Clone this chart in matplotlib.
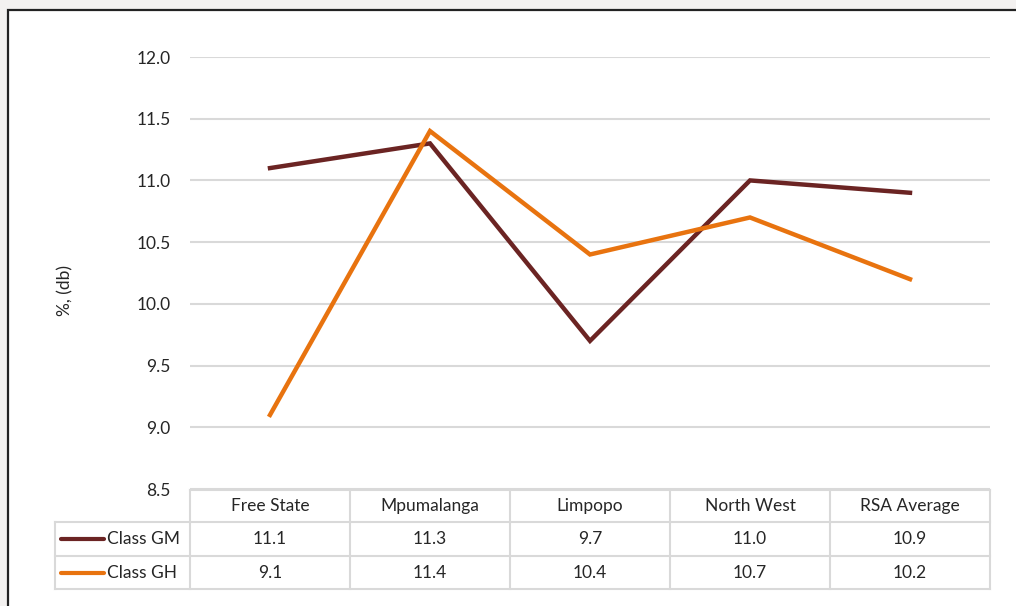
import matplotlib.pyplot as plt
from matplotlib.patches import Rectangle
from matplotlib.lines import Line2D

# Дані
regions = ["Free State", "Mpumalanga", "Limpopo", "North West", "RSA Average"]
class_gm = [11.1, 11.3, 9.7, 11.0, 10.9]
class_gh = [9.1, 11.4, 10.4, 10.7, 10.2]
series_names = ["Class GM", "Class GH"]
colors = ["#6b2423", "#e8730f"]
yticks = [8.5, 9.0, 9.5, 10.0, 10.5, 11.0, 11.5, 12.0]

W, H = 1016, 606
FS = 12.5
plt.rcParams['font.family'] = ['Lato', 'DejaVu Sans']
fig = plt.figure(figsize=(W / 100, H / 100), dpi=100)
fig.patch.set_facecolor("#f3f1f0")

def fx(px):
    return px / W

def fy(py):
    return 1 - py / H

# біла рамка
fig.patches.append(Rectangle((fx(8), fy(620)), fx(1030), fy(10) - fy(620),
                             transform=fig.transFigure, facecolor="white",
                             edgecolor="#222222", lw=1.6, zorder=-1))

ax = fig.add_axes([fx(190), fy(489), fx(990) - fx(190), fy(57) - fy(489)])
ax.set_facecolor("none")
x = list(range(len(regions)))
for vals, c in zip([class_gm, class_gh], colors):
    ax.plot(x, vals, color=c, lw=3.2, solid_joinstyle="miter", zorder=3)

ax.set_xlim(-0.5, len(regions) - 0.5)
ax.set_ylim(yticks[0], yticks[-1])
ax.set_yticks(yticks)
ax.set_yticklabels([f"{v:.1f}" for v in yticks])
ax.yaxis.grid(True, color="#d9d9d9", lw=1.5)
ax.set_axisbelow(True)
ax.tick_params(axis="y", length=0, pad=14, labelsize=FS, labelcolor="#262626")
ax.set_xticks([])
for s in ax.spines.values():
    s.set_visible(False)
fig.text(fx(65), fy(290), "%, (db)", rotation=90, ha="center", va="center",
         fontsize=FS, color="#262626")

# таблиця даних
grid_c = "#d9d9d9"
col_w = (990 - 190) / len(regions)
rows_y = [490, 522, 556, 589]
def hline(x0, x1, y):
    fig.add_artist(Line2D([fx(x0), fx(x1)], [fy(y), fy(y)], color=grid_c, lw=1.5))
def vline(xp, y0, y1):
    fig.add_artist(Line2D([fx(xp), fx(xp)], [fy(y0), fy(y1)], color=grid_c, lw=1.5))

hline(190, 990, rows_y[0])
for y in rows_y[1:]:
    hline(55, 990, y)
vline(55, rows_y[1], rows_y[3])
for i in range(len(regions) + 1):
    vline(190 + i * col_w, rows_y[0], rows_y[3])

for i, r in enumerate(regions):
    cx = 190 + (i + 0.5) * col_w
    fig.text(fx(cx), fy((rows_y[0] + rows_y[1]) / 2), r, ha="center", va="center",
             fontsize=FS, color="#262626")
    for j, vals in enumerate([class_gm, class_gh]):
        fig.text(fx(cx), fy((rows_y[j + 1] + rows_y[j + 2]) / 2), f"{vals[i]:.1f}",
                 ha="center", va="center", fontsize=FS, color="#262626")

for j, (name, c) in enumerate(zip(series_names, colors)):
    yc = fy((rows_y[j + 1] + rows_y[j + 2]) / 2)
    fig.add_artist(Line2D([fx(61), fx(104)], [yc, yc], color=c, lw=3,
                          solid_capstyle="round"))
    fig.text(fx(107), yc, name, ha="left", va="center", fontsize=FS, color="#262626")

fig.savefig("out.png", dpi=100, facecolor=fig.get_facecolor())
